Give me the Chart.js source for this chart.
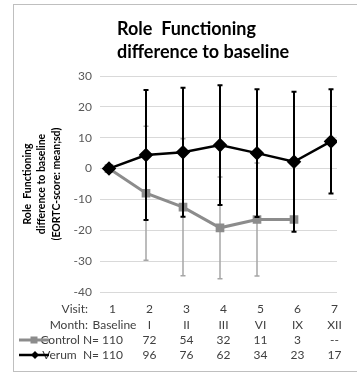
<!DOCTYPE html>
<html>
<head>
<meta charset="utf-8">
<script src="https://cdn.jsdelivr.net/npm/chart.js@4.4.0/dist/chart.umd.min.js"></script>
<style>
  html, body { margin: 0; padding: 0; background: #fff; }
  #wrap { width: 357px; height: 373px; }
</style>
</head>
<body>
<div id="wrap"><canvas id="myChart" width="357" height="373"></canvas></div>
<script>
const ctx = document.getElementById('myChart');

const visits = [1, 2, 3, 4, 5, 6, 7];
const months = ['Baseline', 'I', 'II', 'III', 'VI', 'IX', 'XII'];
const controlMean = [0, -8.0, -12.5, -19.2, -16.5, -16.5, null];
const controlSd = [0, 21.7, 22.2, 16.5, 18.3, 0, null];
const verumMean = [0, 4.4, 5.3, 7.6, 5.0, 2.2, 8.8];
const verumSd = [0, 21.1, 20.9, 19.4, 20.7, 22.7, 16.9];
const controlN = ['110', '72', '54', '32', '11', '3', '--'];
const verumN = ['110', '96', '76', '62', '34', '23', '17'];
const yTicks = [30, 20, 10, 0, -10, -20, -30, -40];

const FONT = 'Lato, "Open Sans", sans-serif';

const toPoints = (means) => visits.map((v, i) => ({ x: v, y: means[i] }));

// error bars (mean +/- sd) drawn under each dataset's line
const errorBars = {
  id: 'errorBars',
  beforeDatasetDraw(chart, args) {
    const ds = chart.data.datasets[args.index];
    const sds = ds.sd;
    const x = chart.scales.x, y = chart.scales.y;
    const c = chart.ctx;
    c.save();
    c.strokeStyle = ds.barColor;
    c.lineWidth = ds.barWidth;
    ds.data.forEach((p, i) => {
      if (p.y === null || !sds[i]) return;
      const px = x.getPixelForValue(p.x);
      const top = y.getPixelForValue(p.y + sds[i]);
      const bot = y.getPixelForValue(p.y - sds[i]);
      c.beginPath();
      c.moveTo(px, top); c.lineTo(px, bot);
      c.moveTo(px - 2.5, top); c.lineTo(px + 2.5, top);
      c.moveTo(px - 2.5, bot); c.lineTo(px + 2.5, bot);
      c.stroke();
    });
    c.restore();
  }
};

// frame, title and the data table under the plot
const decorations = {
  id: 'decorations',
  afterDraw(chart) {
    const c = chart.ctx;
    const x = chart.scales.x;
    c.save();
    c.strokeStyle = '#bfbfbf';
    c.lineWidth = 1;
    c.strokeRect(13.5, 4.5, 360, 367);

    c.fillStyle = '#000';
    c.font = 'bold 18px ' + FONT;
    c.textAlign = 'left';
    c.textBaseline = 'middle';
    c.fillText('Role  Functioning', 117, 29);
    c.fillText('difference to baseline', 117, 52);

    c.font = '12px ' + FONT;
    c.fillStyle = '#404040';
    const rows = [
      { y: 309, label: 'Visit:', vals: visits.map(String) },
      { y: 325, label: 'Month:', vals: months },
      { y: 340, label: 'Control N=', vals: controlN },
      { y: 355, label: 'Verum  N=', vals: verumN }
    ];
    rows.forEach((r, ri) => {
      c.textAlign = 'right';
      c.fillText(r.label, ri < 2 ? 88 : 99, r.y);
      c.textAlign = 'center';
      r.vals.forEach((v, i) => {
        const shift = (ri === 1 && i === 0) ? 5.5 : 3.5;
        c.fillText(v, x.getPixelForValue(visits[i]) + shift, r.y);
      });
    });

    // legend keys in the table
    c.strokeStyle = '#8c8c8c';
    c.lineWidth = 3;
    c.beginPath(); c.moveTo(19, 340); c.lineTo(49, 340); c.stroke();
    c.fillStyle = '#8c8c8c';
    c.fillRect(30.5, 336.5, 7, 7);
    c.strokeStyle = '#000';
    c.lineWidth = 2.5;
    c.beginPath(); c.moveTo(19, 355); c.lineTo(49, 355); c.stroke();
    c.fillStyle = '#000';
    c.beginPath();
    c.moveTo(35, 351); c.lineTo(39, 355); c.lineTo(35, 359); c.lineTo(31, 355);
    c.closePath(); c.fill();
    c.restore();
  }
};

new Chart(ctx, {
  type: 'line',
  data: {
    datasets: [{
      label: 'Verum',
      data: toPoints(verumMean),
      sd: verumSd,
      borderColor: '#000',
      backgroundColor: '#000',
      borderWidth: 2.5,
      pointStyle: 'rectRot',
      pointRadius: 5.5,
      barColor: '#000',
      barWidth: 2
    }, {
      label: 'Control',
      data: toPoints(controlMean),
      sd: controlSd,
      borderColor: '#8c8c8c',
      backgroundColor: '#8c8c8c',
      borderWidth: 3,
      pointStyle: 'rect',
      pointRadius: 4,
      barColor: '#a6a6a6',
      barWidth: 1.5
    }]
  },
  options: {
    responsive: false,
    animation: false,
    layout: { padding: { top: 76, right: 20, bottom: 81, left: 0 } },
    scales: {
      x: {
        type: 'linear',
        display: false,
        min: 1 - 9 / 37,
        max: 7 + 6 / 37
      },
      y: {
        min: -40,
        max: 30,
        afterFit(scale) { scale.width = 100; },
        afterBuildTicks(scale) { scale.ticks = yTicks.map(v => ({ value: v })); },
        border: { display: false },
        grid: { color: '#d9d9d9', drawTicks: false },
        ticks: { padding: 8, color: '#595959', font: { family: FONT, size: 12 } },
        title: {
          display: true,
          text: ['Role  Functioning', 'difference to baseline', '(EORTC-score: mean;sd)'],
          color: '#000',
          font: { family: FONT, size: 10.5, weight: 'bold', lineHeight: 1.38 },
          padding: { top: 20, bottom: 0 }
        }
      }
    },
    plugins: {
      legend: { display: false },
      tooltip: { enabled: false }
    }
  },
  plugins: [errorBars, decorations]
});
</script>
</body>
</html>
